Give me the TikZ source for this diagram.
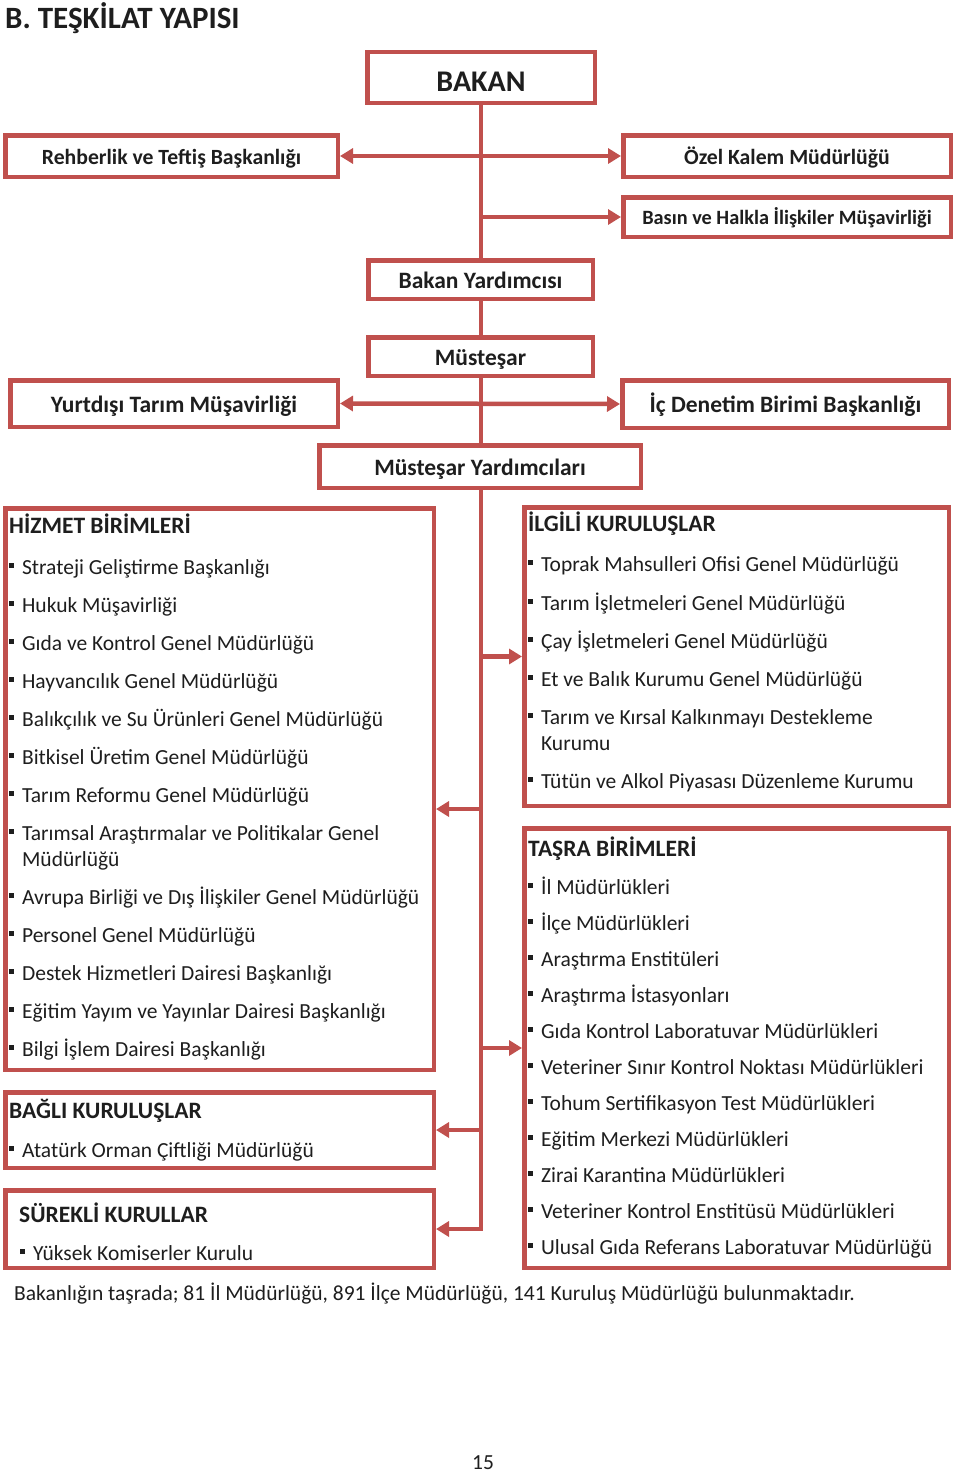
\documentclass[tikz,border=0pt]{standalone}
\usepackage{fontspec}
\setmainfont{Carlito}
\usetikzlibrary{arrows.meta}
\definecolor{bred}{RGB}{192,80,77}
\definecolor{ink}{HTML}{1E1E1E}
\newcommand\bul{\rule[0.28em]{0.24em}{0.24em}\hspace{0.36em}}
\newcommand\obox[7][]{\node[box,ttl,minimum width={(#5-#3-4.5)*1pt},minimum height={(#6-#4-4.5)*1pt},#1] (#2) at ({(#3+#5)/2},{(#4+#6)/2}) {#7};}
\begin{document}
\begin{tikzpicture}[x=1pt,y=-1pt,
  box/.style={draw=bred, line width=4.5pt, fill=white, inner sep=0pt, text=ink},
  ttl/.style={font=\fontsize{23.5}{28}\selectfont\bfseries, text height=18pt, text depth=0.6pt},
  ttls/.style={font=\fontsize{21.7}{26}\selectfont\bfseries, text height=16.6pt, text depth=0.6pt},
  hdr/.style={anchor=base west, inner sep=0pt, text=ink, font=\fontsize{23.5}{28}\selectfont\bfseries},
  itm/.style={anchor=base west, inner sep=0pt, text=ink, align=left, font=\fontsize{21.5}{26}\selectfont},
  conn/.style={draw=bred, line width=4.5pt},
  arr/.style={conn, -{Triangle[length=13pt,width=15pt]}},
  darr/.style={conn, {Triangle[length=13pt,width=15pt]}-{Triangle[length=13pt,width=15pt]}},
]
\useasboundingbox (0,0) rectangle (960,1472);
\fill[white] (0,0) rectangle (960,1472);

\node[anchor=base west, inner sep=0pt, text=ink, font=\fontsize{31}{36}\selectfont\bfseries] (title) at (5,29) {B. TEŞKİLAT YAPISI};

% boxes
\obox[font=\fontsize{30}{36}\selectfont\bfseries, text height=27.6pt, text depth=0.6pt]{bakan}{365}{50}{597}{105}{BAKAN}
\obox[ttls]{rehber}{3}{133}{340}{179}{Rehberlik ve Teftiş Başkanlığı}
\obox[ttls]{ozel}{621}{133}{953}{179}{Özel Kalem Müdürlüğü}
\obox[font=\fontsize{20.3}{24}\selectfont\bfseries, text height=15.6pt, text depth=0.6pt]{basin}{621}{195}{953}{239}{Basın ve Halkla İlişkiler Müşavirliği}
\obox{byard}{366}{258}{595}{301}{Bakan Yardımcısı}
\obox{mustesar}{366}{335}{595}{378}{Müsteşar}
\obox{yurtdisi}{8}{378}{340}{429}{Yurtdışı Tarım Müşavirliği}
\obox{icdenetim}{620}{378}{951}{430}{İç Denetim Birimi Başkanlığı}
\obox{myard}{317}{443}{643}{490}{Müsteşar Yardımcıları}
\obox{hizmet}{3}{506}{436}{1072}{}
\obox{ilgili}{522}{505}{951}{808}{}
\obox{tasra}{522}{826}{951}{1270}{}
\obox{bagli}{3}{1090}{436}{1170}{}
\obox{surekli}{3}{1188}{436}{1270}{}

% connectors
\coordinate (spine) at (481,0);
\coordinate (busend) at (spine |- surekli.east);
\coordinate (jh) at (481,809);
\draw[conn] (spine |- bakan.south) -- (spine |- byard.north);
\draw[conn] (spine |- byard.south) -- (spine |- mustesar.north);
\draw[conn] (spine |- mustesar.south) -- (spine |- myard.north);
\draw[darr] (rehber.east) -- (ozel.west);
\draw[arr] (spine |- basin.west) -- (basin.west);
\draw[darr] (yurtdisi.east) -- (icdenetim.west);
\draw[arr] (spine |- myard.south) -- (busend) -- (surekli.east);
\draw[arr] (spine |- ilgili.west) -- (ilgili.west);
\draw[arr] (jh) -- (jh -| hizmet.east);
\draw[arr] (spine |- tasra.west) -- (tasra.west);
\draw[arr] (spine |- bagli.east) -- (bagli.east);

% HIZMET BIRIMLERI
\node[hdr] (hh) at (9,533) {HİZMET BİRİMLERİ};
\node[itm] (h1) at (9,574) {\bul Strateji Geliştirme Başkanlığı};
\node[itm] (h2) at (9,612) {\bul Hukuk Müşavirliği};
\node[itm] (h3) at (9,650) {\bul Gıda ve Kontrol Genel Müdürlüğü};
\node[itm] (h4) at (9,688) {\bul Hayvancılık Genel Müdürlüğü};
\node[itm] (h5) at (9,726) {\bul Balıkçılık ve Su Ürünleri Genel Müdürlüğü};
\node[itm] (h6) at (9,764) {\bul Bitkisel Üretim Genel Müdürlüğü};
\node[itm] (h7) at (9,802) {\bul Tarım Reformu Genel Müdürlüğü};
\node[itm] (h8) at (9,866) {\bul Tarımsal Araştırmalar ve Politikalar Genel\\\hphantom{\bul}Müdürlüğü};
\node[itm] (h9) at (9,904) {\bul Avrupa Birliği ve Dış İlişkiler Genel Müdürlüğü};
\node[itm] (h10) at (9,942) {\bul Personel Genel Müdürlüğü};
\node[itm] (h11) at (9,980) {\bul Destek Hizmetleri Dairesi Başkanlığı};
\node[itm] (h12) at (9,1018) {\bul Eğitim Yayım ve Yayınlar Dairesi Başkanlığı};
\node[itm] (h13) at (9,1056) {\bul Bilgi İşlem Dairesi Başkanlığı};

% ILGILI KURULUSLAR
\node[hdr] (ih) at (528,531) {İLGİLİ KURULUŞLAR};
\node[itm] (i1) at (528,571) {\bul Toprak Mahsulleri Ofisi Genel Müdürlüğü};
\node[itm] (i2) at (528,610) {\bul Tarım İşletmeleri Genel Müdürlüğü};
\node[itm] (i3) at (528,648) {\bul Çay İşletmeleri Genel Müdürlüğü};
\node[itm] (i4) at (528,686) {\bul Et ve Balık Kurumu Genel Müdürlüğü};
\node[itm] (i5) at (528,750) {\bul Tarım ve Kırsal Kalkınmayı Destekleme\\\hphantom{\bul}Kurumu};
\node[itm] (i6) at (528,788) {\bul Tütün ve Alkol Piyasası Düzenleme Kurumu};

% TASRA BIRIMLERI
\node[hdr] (th) at (528,856) {TAŞRA BİRİMLERİ};
\node[itm] (t1) at (528,894) {\bul İl Müdürlükleri};
\node[itm] (t2) at (528,930) {\bul İlçe Müdürlükleri};
\node[itm] (t3) at (528,966) {\bul Araştırma Enstitüleri};
\node[itm] (t4) at (528,1002) {\bul Araştırma İstasyonları};
\node[itm] (t5) at (528,1038) {\bul Gıda Kontrol Laboratuvar Müdürlükleri};
\node[itm] (t6) at (528,1074) {\bul Veteriner Sınır Kontrol Noktası Müdürlükleri};
\node[itm] (t7) at (528,1110) {\bul Tohum Sertifikasyon Test Müdürlükleri};
\node[itm] (t8) at (528,1146) {\bul Eğitim Merkezi Müdürlükleri};
\node[itm] (t9) at (528,1182) {\bul Zirai Karantina Müdürlükleri};
\node[itm] (t10) at (528,1218) {\bul Veteriner Kontrol Enstitüsü Müdürlükleri};
\node[itm] (t11) at (528,1254) {\bul Ulusal Gıda Referans Laboratuvar Müdürlüğü};

% BAGLI / SUREKLI
\node[hdr] (bh) at (9,1118) {BAĞLI KURULUŞLAR};
\node[itm] (b1) at (9,1157) {\bul Atatürk Orman Çiftliği Müdürlüğü};
\node[hdr] (sh) at (19,1222) {SÜREKLİ KURULLAR};
\node[itm] (s1) at (20,1260) {\bul Yüksek Komiserler Kurulu};

% footer
\node[itm] (foot) at (14,1300) {Bakanlığın taşrada; 81 İl Müdürlüğü, 891 İlçe Müdürlüğü, 141 Kuruluş Müdürlüğü bulunmaktadır.};
\node[itm] (page) at (472,1469) {15};
\end{tikzpicture}
\end{document}
